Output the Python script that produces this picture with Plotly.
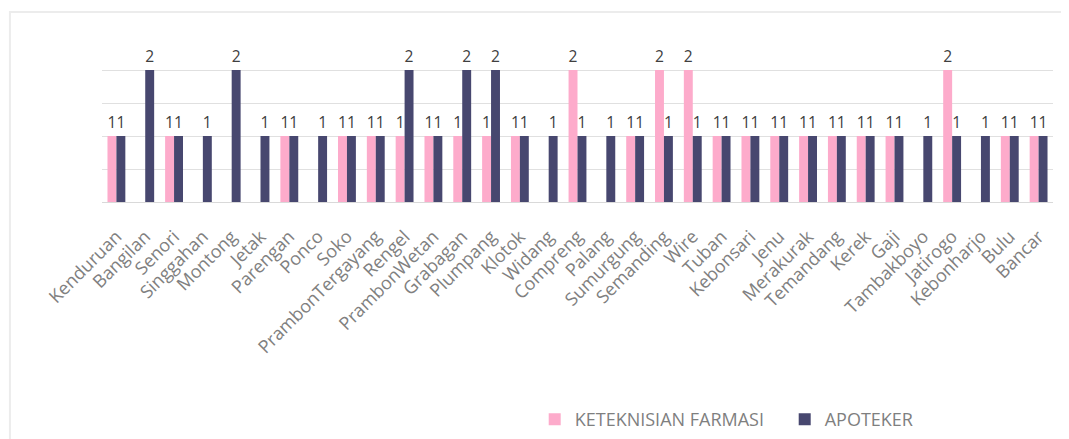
import plotly.graph_objects as go

categories = ["Kenduruan", "Bangilan", "Senori", "Singgahan", "Montong", "Jetak", "Parengan",
              "Ponco", "Soko", "PrambonTergayang", "Rengel", "PrambonWetan", "Grabagan",
              "Plumpang", "Klotok", "Widang", "Compreng", "Palang", "Sumurgung", "Semanding",
              "Wire", "Tuban", "Kebonsari", "Jenu", "Merakurak", "Temandang", "Kerek", "Gaji",
              "Tambakboyo", "Jatirogo", "Kebonharjo", "Bulu", "Bancar"]
teknisi = [1, 0, 1, 0, 0, 0, 1, 0, 1, 1, 1, 1, 1, 1, 1, 0, 2, 0, 1, 2, 2, 1, 1, 1, 1, 1, 1, 1, 0, 2, 0, 1, 1]
apoteker = [1, 2, 1, 1, 2, 1, 1, 1, 1, 1, 2, 1, 2, 2, 1, 1, 1, 1, 1, 1, 1, 1, 1, 1, 1, 1, 1, 1, 1, 1, 1, 1, 1]
series_names = ["KETEKNISIAN FARMASI", "APOTEKER"]
colors = ["#FDABCB", "#47476F"]

FONT = "Open Sans"

def lbl(vals):
    return [str(v) if v else "" for v in vals]

fig = go.Figure()
for name, vals, col in zip(series_names, [teknisi, apoteker], colors):
    fig.add_trace(go.Bar(
        x=categories, y=vals, name=name, marker=dict(color=col, line=dict(width=0)),
        text=lbl(vals), textposition="outside", cliponaxis=False,
        textfont=dict(family=FONT, size=17, color="#404040"),
    ))

fig.update_layout(
    width=1061, height=431,
    barmode="group", bargap=0.38, bargroupgap=0,
    margin=dict(l=94, r=16, t=29, b=237, autoexpand=False),
    paper_bgcolor="white", plot_bgcolor="white",
    font=dict(family=FONT, color="#7F7F7F"),
    xaxis=dict(tickangle=-45, tickfont=dict(family=FONT, size=18, color="#808080"),
               showline=True, linecolor="#D9D9D9", linewidth=1, ticks="", automargin=False,
               ticklabelstandoff=16),
    yaxis=dict(range=[0, 2.5], dtick=0.5, showticklabels=False,
               showgrid=True, gridcolor="#E0E0E0", gridwidth=1, zeroline=False,
               automargin=False),
    legend=dict(orientation="h", x=0.455, xanchor="left", y=-1.206, yanchor="top",
                font=dict(family=FONT, size=18, color="#7F7F7F"), traceorder="normal",
                itemwidth=30, tracegroupgap=0, entrywidth=205),
    showlegend=True,
    shapes=[dict(type="rect", xref="paper", yref="paper",
                 x0=-0.0968, x1=1.05, y0=-1.6, y1=1.1515,
                 line=dict(color="#ECECEC", width=2), layer="below")],
)

fig.write_html("out.html")
